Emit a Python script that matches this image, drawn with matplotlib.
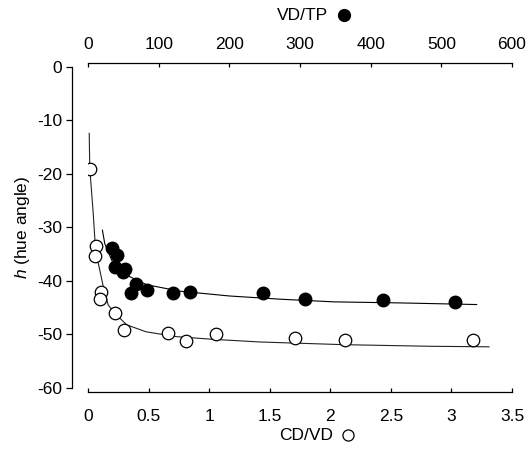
import numpy as np
import matplotlib
matplotlib.use('Agg')
import matplotlib.pyplot as plt
from matplotlib.lines import Line2D

plt.rcParams['font.family'] = ['Liberation Sans', 'DejaVu Sans']
plt.rcParams['mathtext.fontset'] = 'custom'
plt.rcParams['mathtext.it'] = 'Liberation Sans:italic'
plt.rcParams['mathtext.rm'] = 'Liberation Sans'

# open circles, CD/VD (bottom axis)
cdvd_x = [0.02, 0.07, 0.06, 0.105, 0.10, 0.22, 0.30, 0.66, 0.81, 1.06, 1.71, 2.12, 3.18]
cdvd_h = [-19.1, -33.4, -35.3, -42.0, -43.4, -46.0, -49.2, -49.8, -51.3, -50.0, -50.7, -51.1, -51.1]

# lower fitted curve
fit1_x = [0.01, 0.014, 0.02, 0.043, 0.057, 0.085, 0.126, 0.167, 0.22, 0.32, 0.48, 0.73, 1.03, 1.42, 2.11, 2.82, 3.31]
fit1_h = [-12.4, -18.0, -20.5, -27.3, -32.3, -36.7, -41.0, -44.5, -46.0, -48.2, -49.5, -50.4, -50.9, -51.4, -51.9, -52.2, -52.3]

# filled circles, VD/TP (top axis)
vdtp_x = [33.7, 41.2, 38.4, 52.1, 48.9, 67.8, 60.2, 83.8, 120.3, 144, 248, 307, 417, 519]
vdtp_h = [-33.9, -35.1, -37.4, -37.7, -38.3, -40.5, -42.3, -41.7, -42.3, -42.1, -42.3, -43.4, -43.6, -43.9]

# upper fitted curve
fit2_x = [20.4, 23.7, 35.5, 59.2, 83, 130, 200, 272, 348, 443, 550]
fit2_h = [-30.5, -33.0, -36.7, -39.2, -40.7, -41.9, -42.8, -43.4, -43.9, -44.1, -44.4]

yticks = [0, -10, -20, -30, -40, -50, -60]
xticks = [0, 0.5, 1, 1.5, 2, 2.5, 3, 3.5]
xtick_labels = ['0', '0.5', '1', '1.5', '2', '2.5', '3', '3.5']
top_ticks = [0, 100, 200, 300, 400, 500, 600]

fs = 12.5
px = 72 / 100.0
W, H = 528, 454

fig = plt.figure(figsize=(5.28, 4.54), dpi=100)
ax = fig.add_axes([88 / W, 1 - 388 / H, 424 / W, 321 / H])
ax.set_xlim(0, 3.5)
ax.set_ylim(-60, 0)

ax.plot(fit1_x, fit1_h, color='#222222', lw=0.8, zorder=2)
ax.plot(cdvd_x, cdvd_h, 'o', ms=9, mfc='white', mec='black', mew=0.9, ls='none', zorder=3)

ax.spines['right'].set_visible(False)
ax.spines['top'].set_visible(False)
ax.spines['left'].set_position(('outward', 16 * px))
ax.spines['bottom'].set_position(('outward', 4 * px))
ax.spines['left'].set_bounds(-60, 0)
ax.spines['bottom'].set_bounds(0, 3.5)
for s in ['left', 'bottom']:
    ax.spines[s].set_linewidth(0.9)

ax.set_yticks(yticks)
ax.set_yticklabels([str(v) for v in yticks])
ax.set_xticks(xticks)
ax.set_xticklabels(xtick_labels)
ax.tick_params(axis='y', direction='out', length=4, width=0.9, pad=3, labelsize=fs)
ax.tick_params(axis='x', direction='in', length=3, width=0.9, pad=12, labelsize=fs)
ax.set_ylabel('$h$ (hue angle)', fontsize=fs, labelpad=4)

ax2 = ax.twiny()
ax2.set_xlim(0, 600)
ax2.set_ylim(-60, 0)
ax2.plot(fit2_x, fit2_h, color='black', lw=0.8, zorder=2)
ax2.plot(vdtp_x, vdtp_h, 'o', ms=9, mfc='black', mec='black', ls='none', zorder=3)
for s in ['left', 'right', 'bottom']:
    ax2.spines[s].set_visible(False)
ax2.spines['top'].set_position(('outward', 4 * px))
ax2.spines['top'].set_bounds(0, 600)
ax2.spines['top'].set_linewidth(0.9)
ax2.set_xticks(top_ticks)
ax2.tick_params(axis='x', direction='in', length=3, width=0.9, pad=8, labelsize=fs)

# axis titles with symbol keys
fig.text(279 / W, 1 - 435 / H, 'CD/VD', ha='left', va='center', fontsize=fs)
fig.add_artist(Line2D([348 / W], [1 - 435 / H], marker='o', ms=8, mfc='white', mec='black',
                      mew=0.9, transform=fig.transFigure))
fig.text(277 / W, 1 - 15 / H, 'VD/TP', ha='left', va='center', fontsize=fs)
fig.add_artist(Line2D([344 / W], [1 - 15 / H], marker='o', ms=8.5, mfc='black', mec='black',
                      transform=fig.transFigure))

fig.savefig('out.png', dpi=100)
